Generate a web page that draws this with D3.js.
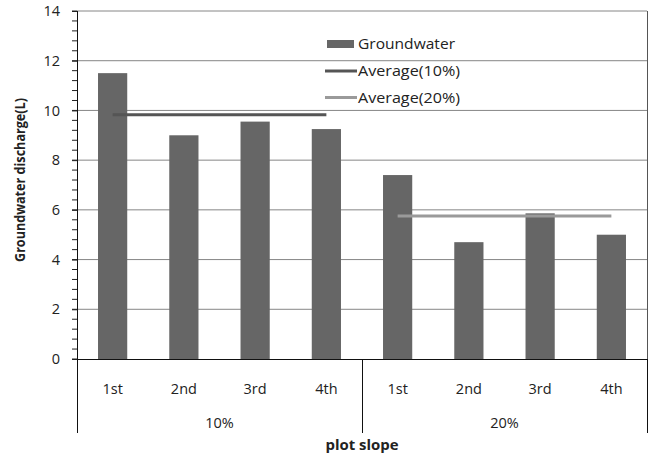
<!DOCTYPE html>
<html><head><meta charset="utf-8">
<script src="https://cdn.jsdelivr.net/npm/d3@7"></script>
<style>body{margin:0;background:#fff}svg{display:block}text{font-family:"Open Sans",sans-serif;fill:#222}</style>
</head><body><svg id="c" width="652" height="456"></svg>
<script>
const runs = ["1st","2nd","3rd","4th","1st","2nd","3rd","4th"];
const slopes = ["10%","20%"];
const groundwater = [11.5, 9.0, 9.55, 9.25, 7.4, 4.7, 5.86, 5.0];
const averages = [9.83, 5.75];
const yTicks = [0,2,4,6,8,10,12,14];
const legendLabels = ["Groundwater","Average(10%)","Average(20%)"];

const svg = d3.select("#c");
const L=77, R=647, T=11, B=359, catBottom=433;
const x = d3.scaleBand().domain(d3.range(runs.length)).range([L,R]).paddingInner(0.59).paddingOuter(0.295);
const xs = d3.scaleBand().domain(d3.range(runs.length)).range([L,R]);
const y = d3.scaleLinear().domain([0,14]).range([B,T]);

// gridlines
svg.append("g").selectAll("line").data(yTicks.filter(d=>d>0)).join("line")
  .attr("x1",L).attr("x2",R).attr("y1",d=>y(d)).attr("y2",d=>y(d))
  .attr("stroke","#868686").attr("stroke-width",1);
// right border
svg.append("line").attr("x1",R+0.5).attr("x2",R+0.5).attr("y1",T).attr("y2",B).attr("stroke","#555");

// bars
svg.append("g").selectAll("rect").data(groundwater).join("rect")
  .attr("x",(d,i)=>x(i)).attr("width",x.bandwidth())
  .attr("y",d=>y(d)).attr("height",d=>B-y(d)).attr("fill","#666666");

// average lines
const avgColors=["#555555","#9a9a9a"];
averages.forEach((a,g)=>{
  svg.append("line").attr("x1",xs(g*4)+xs.bandwidth()/2).attr("x2",xs(g*4+3)+xs.bandwidth()/2)
    .attr("y1",y(a)).attr("y2",y(a)).attr("stroke",avgColors[g]).attr("stroke-width",3);
});

// y axis
const yAxis = d3.axisLeft(y).tickValues(yTicks).tickSize(5).tickPadding(12).tickFormat(d3.format("d"));
const ga = svg.append("g").attr("transform",`translate(${L},0)`).call(yAxis);
ga.select(".domain").remove();
ga.selectAll("text").style("font-size","14.5px").attr("fill","#222");
ga.selectAll("line").attr("stroke","#222");
svg.append("g").selectAll("line").data(d3.range(0,14.01,0.4)).join("line")
  .attr("x1",L-5).attr("x2",L).attr("y1",d=>y(d)).attr("y2",d=>y(d)).attr("stroke","#222");
svg.append("line").attr("x1",L+0.5).attr("x2",L+0.5).attr("y1",T).attr("y2",catBottom).attr("stroke","#111");

// x axis line
svg.append("line").attr("x1",L).attr("x2",R).attr("y1",B+0.5).attr("y2",B+0.5).attr("stroke","#111");
// group separators
[4,8].forEach(i=>{
  const xx = (i<8? xs(i): R)+0.5;
  svg.append("line").attr("x1",xx).attr("x2",xx).attr("y1",B).attr("y2",catBottom).attr("stroke","#111");
});
// run labels
svg.append("g").selectAll("text").data(runs).join("text")
  .attr("x",(d,i)=>xs(i)+xs.bandwidth()/2).attr("y",394).attr("text-anchor","middle")
  .style("font-size","14.5px").text(d=>d);
// slope labels
svg.append("g").selectAll("text").data(slopes).join("text")
  .attr("x",(d,g)=>(xs(g*4)+xs(g*4+3)+xs.bandwidth())/2).attr("y",428).attr("text-anchor","middle")
  .style("font-size","14.5px").text(d=>d);

// axis titles
svg.append("text").attr("x",(L+R)/2).attr("y",450).attr("text-anchor","middle")
  .style("font-size","14px").style("font-weight","bold")
  .attr("textLength",73).attr("lengthAdjust","spacingAndGlyphs").text("plot slope");
svg.append("text").attr("transform","translate(25,180) rotate(-90)").attr("text-anchor","middle")
  .style("font-size","13.5px").style("font-weight","bold")
  .attr("textLength",164).attr("lengthAdjust","spacingAndGlyphs").text("Groundwater discharge(L)");

// legend
const lg = svg.append("g");
const lgLen=[97,102,102];
lg.append("rect").attr("x",327).attr("y",40).attr("width",27).attr("height",8).attr("fill","#666666");
lg.append("text").attr("x",358).attr("y",49).style("font-size","15px")
  .attr("textLength",lgLen[0]).attr("lengthAdjust","spacingAndGlyphs").text(legendLabels[0]);
[0,1].forEach(g=>{
  const yy = 71 + g*26.5;
  lg.append("line").attr("x1",325).attr("x2",357).attr("y1",yy).attr("y2",yy).attr("stroke",avgColors[g]).attr("stroke-width",3);
  lg.append("text").attr("x",358).attr("y",yy+5).style("font-size","15px")
    .attr("textLength",lgLen[g+1]).attr("lengthAdjust","spacingAndGlyphs").text(legendLabels[g+1]);
});
</script></body></html>
